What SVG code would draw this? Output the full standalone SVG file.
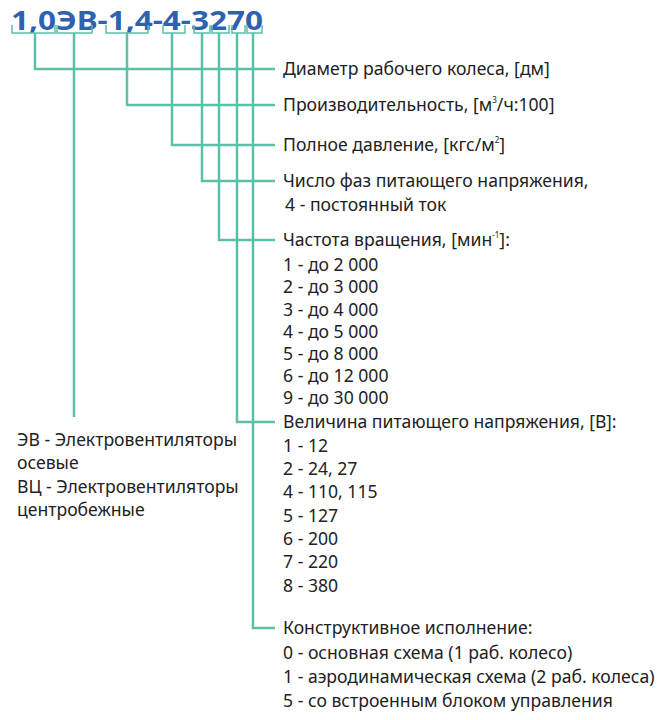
<svg xmlns="http://www.w3.org/2000/svg" width="667" height="720" viewBox="0 0 667 720">
<style>
.l{stroke:#5cbfa8;stroke-width:2.5;fill:none}
.b{stroke:#5cbfa8;stroke-width:1.5;fill:none}
text{font-family:"Noto Sans","DejaVu Sans",sans-serif;font-size:17.6px;fill:#222}
.t{font-size:27px;font-weight:bold;fill:#2e62b0}
.s{font-size:8px}
</style>
<rect width="667" height="720" fill="#fff"/>
<g id="title"><text class="t" x="11" y="30" textLength="252" lengthAdjust="spacingAndGlyphs">1,0ЭВ-1,4-4-3270</text></g>
<g id="brackets">
<path class="b" d="M12,25V33H55V25M57,25V33H92V25M106,25V33H148V25M163,25V33H185V25M194,25V33H210V25M212,25V33H229V25M232,25V33H245V25M247,25V33H262V25"/>
</g>
<g id="connectors">
<path class="l" d="M35,33V69H275"/>
<path class="l" d="M74,33V417"/>
<path class="l" d="M127,33V105H275"/>
<path class="l" d="M172,33V145H275"/>
<path class="l" d="M202,33V181H275"/>
<path class="l" d="M219,33V240H275"/>
<path class="l" d="M237,33V422H275"/>
<path class="l" d="M253,33V628H275"/>
</g>
<g id="n1"><text x="283" y="75">Диаметр рабочего колеса, [дм]</text></g>
<g id="n2"><text x="283" y="111">Производительность, [м<tspan class="s" dy="-8">3</tspan><tspan dy="8">/ч:100]</tspan></text></g>
<g id="n3"><text x="283" y="151">Полное давление, [кгс/м<tspan class="s" dy="-8">2</tspan><tspan dy="8">]</tspan></text></g>
<g id="n4"><text x="283" y="187">Число фаз питающего напряжения,</text><text x="285" y="211">4 - постоянный ток</text></g>
<g id="n5"><text x="283" y="246">Частота вращения, [мин<tspan class="s" dy="-8">-1</tspan><tspan dy="8">]:</tspan></text>
<text x="283" y="271">1 - до 2 000</text><text x="283" y="293">2 - до 3 000</text><text x="283" y="316">3 - до 4 000</text><text x="283" y="338">4 - до 5 000</text><text x="283" y="360">5 - до 8 000</text><text x="283" y="382">6 - до 12 000</text><text x="283" y="404">9 - до 30 000</text></g>
<g id="n6"><text x="283" y="428">Величина питающего напряжения, [В]:</text>
<text x="283" y="452">1 - 12</text><text x="283" y="475">2 - 24, 27</text><text x="283" y="498">4 - 110, 115</text><text x="283" y="522">5 - 127</text><text x="283" y="545">6 - 200</text><text x="283" y="568">7 - 220</text><text x="283" y="592">8 - 380</text></g>
<g id="n7"><text x="283" y="634">Конструктивное исполнение:</text>
<text x="283" y="659">0 - основная схема (1 раб. колесо)</text><text x="283" y="683">1 - аэродинамическая схема (2 раб. колеса)</text><text x="283" y="707">5 - со встроенным блоком управления</text></g>
<g id="legend"><text x="17" y="446">ЭВ - Электровентиляторы</text><text x="17" y="469">осевые</text><text x="17" y="493">ВЦ - Электровентиляторы</text><text x="17" y="516">центробежные</text></g>
</svg>
